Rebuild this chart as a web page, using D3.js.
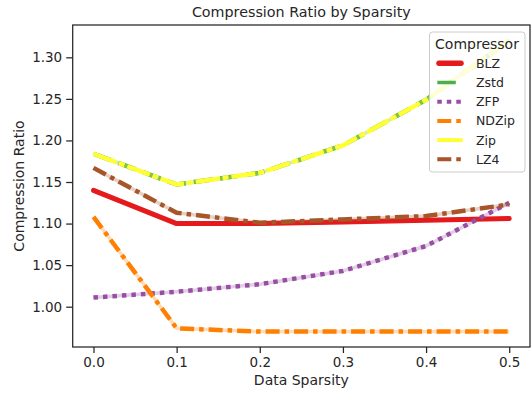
<!DOCTYPE html>
<html>
<head>
<meta charset="utf-8">
<script src="https://cdn.jsdelivr.net/npm/d3@7"></script>
<style>
  body { margin: 0; background: #fff; }
  svg { font-family: "DejaVu Sans", sans-serif; }
</style>
</head>
<body>
<svg id="chart" width="531" height="395"></svg>
<script>
// values
const sparsity = [0.0, 0.1, 0.2, 0.3, 0.4, 0.5];
const blz   = [1.140, 1.100, 1.100, 1.102, 1.104, 1.106];
const zstd  = [1.184, 1.147, 1.161, 1.194, 1.249, 1.320];
const zfp   = [1.011, 1.018, 1.027, 1.043, 1.073, 1.125];
const ndzip = [1.108, 0.974, 0.970, 0.970, 0.970, 0.970];
const zip   = [1.184, 1.147, 1.161, 1.194, 1.249, 1.320];
const lz4   = [1.167, 1.113, 1.101, 1.105, 1.109, 1.123];

const xTicks = [0.0, 0.1, 0.2, 0.3, 0.4, 0.5];
const yTicks = [1.00, 1.05, 1.10, 1.15, 1.20, 1.25, 1.30];

const series = [
  { name: 'BLZ',   values: blz,   color: '#e41a1c', dash: null,          width: 5,   legendWidth: 5.5 },
  { name: 'Zstd',  values: zstd,  color: '#4daf4a', dash: '18.5,8',      width: 4.5, legendWidth: 3.5 },
  { name: 'ZFP',   values: zfp,   color: '#984ea3', dash: '4.5,5',       width: 4.5, legendWidth: 4 },
  { name: 'NDZip', values: ndzip, color: '#ff7f00', dash: '14,5,4.5,5',  width: 4.5, legendWidth: 4 },
  { name: 'Zip',   values: zip,   color: '#ffff33', dash: '24,3,6,3',    width: 4.5, legendWidth: 4 },
  { name: 'LZ4',   values: lz4,   color: '#a65628', dash: '14,5,4.5,5',  width: 4.5, legendWidth: 4 }
];

const svg = d3.select('#chart');
const PLOT = { LEFT: 72.7, RIGHT: 530, TOP: 25, BOTTOM: 347 };
const ink = '#262626';

const x = d3.scaleLinear().domain([-0.025, 0.525]).range([PLOT.LEFT, PLOT.RIGHT]);
const y = d3.scaleLinear().domain([0.9515, 1.3389]).range([PLOT.BOTTOM, PLOT.TOP]);

// title
svg.append('text')
  .attr('x', (PLOT.LEFT + PLOT.RIGHT) / 2).attr('y', 17)
  .attr('text-anchor', 'middle')
  .attr('font-size', 14.3).attr('fill', ink)
  .text('Compression Ratio by Sparsity');

// lines
const line = d3.line()
  .x((d, i) => x(sparsity[i]))
  .y(d => y(d));

const lines = svg.append('g');
series.forEach(s => {
  // faint solid line under each dashed one
  lines.append('path')
    .attr('d', line(s.values))
    .attr('fill', 'none')
    .attr('stroke', s.color)
    .attr('stroke-opacity', 0.28)
    .attr('stroke-width', 3.5)
    .attr('stroke-linejoin', 'round');

  lines.append('path')
    .attr('d', line(s.values))
    .attr('fill', 'none')
    .attr('stroke', s.color)
    .attr('stroke-width', s.width)
    .attr('stroke-linejoin', 'round')
    .attr('stroke-linecap', s.dash ? 'butt' : 'round')
    .attr('stroke-dasharray', s.dash);
});

// axes
const xAxis = d3.axisBottom(x).tickValues(xTicks).tickFormat(d3.format('.1f')).tickSize(6).tickPadding(4);
const yAxis = d3.axisLeft(y).tickValues(yTicks).tickFormat(d3.format('.2f')).tickSize(6.5).tickPadding(4);

const gx = svg.append('g').attr('transform', `translate(0,${PLOT.BOTTOM})`).call(xAxis);
const gy = svg.append('g').attr('transform', `translate(${PLOT.LEFT},0)`).call(yAxis);

[gx, gy].forEach(g => {
  g.select('.domain').remove();
  g.selectAll('line').attr('stroke', ink).attr('stroke-width', 1.25);
  g.selectAll('text').attr('fill', ink).attr('font-size', 13.5)
    .attr('font-family', '"DejaVu Sans", sans-serif');
});

// frame
svg.append('rect')
  .attr('x', PLOT.LEFT).attr('y', PLOT.TOP)
  .attr('width', PLOT.RIGHT - PLOT.LEFT).attr('height', PLOT.BOTTOM - PLOT.TOP)
  .attr('fill', 'none').attr('stroke', ink).attr('stroke-width', 1.25);

// axis labels
svg.append('text')
  .attr('x', (PLOT.LEFT + PLOT.RIGHT) / 2).attr('y', 385)
  .attr('text-anchor', 'middle')
  .attr('font-size', 14).attr('fill', ink)
  .text('Data Sparsity');

svg.append('text')
  .attr('transform', `translate(24,${(PLOT.TOP + PLOT.BOTTOM) / 2}) rotate(-90)`)
  .attr('text-anchor', 'middle')
  .attr('font-size', 14).attr('fill', ink)
  .text('Compression Ratio');

// legend
const legend = svg.append('g');
legend.append('rect')
  .attr('x', 429.5).attr('y', 32)
  .attr('width', 95.5).attr('height', 140)
  .attr('rx', 3)
  .attr('fill', '#fff').attr('fill-opacity', 0.8)
  .attr('stroke', '#cccccc').attr('stroke-width', 1);

legend.append('text')
  .attr('x', 477).attr('y', 49)
  .attr('text-anchor', 'middle')
  .attr('font-size', 14).attr('fill', ink)
  .text('Compressor');

series.forEach((s, i) => {
  const ly = 63.3 + i * 19.2;
  legend.append('line')
    .attr('x1', s.dash ? 437.3 : 439).attr('x2', s.dash ? 462.7 : 461)
    .attr('y1', ly).attr('y2', ly)
    .attr('stroke', s.color)
    .attr('stroke-width', s.legendWidth)
    .attr('stroke-linecap', s.dash ? 'butt' : 'round')
    .attr('stroke-dasharray', s.name === 'Zip' ? null : s.dash);
  legend.append('text')
    .attr('x', 476).attr('y', ly + 4.5)
    .attr('font-size', 12.5).attr('fill', ink)
    .text(s.name);
});
</script>
</body>
</html>
